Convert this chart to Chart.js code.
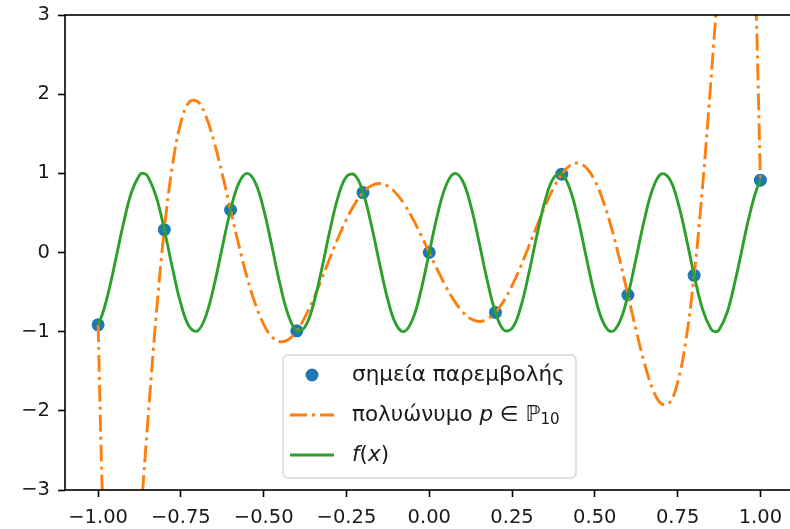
<!DOCTYPE html>
<html>
<head>
<meta charset="utf-8">
<script src="https://cdn.jsdelivr.net/npm/chart.js@4.4.1/dist/chart.umd.min.js"></script>
<style>
  html, body { margin: 0; padding: 0; background: #fff; overflow: hidden; }
  #wrap { width: 800px; height: 529px; }
</style>
</head>
<body>
<div id="wrap"><canvas id="chart" width="800" height="529"></canvas></div>
<script>
const xGrid = [
  -1, -0.9875, -0.975, -0.9625, -0.95, -0.9375, -0.925, -0.9, -0.875, -0.8625, -0.85,
  -0.825, -0.8, -0.775, -0.75, -0.725, -0.7, -0.675, -0.65, -0.625, -0.6, -0.575,
  -0.55, -0.525, -0.5, -0.475, -0.45, -0.425, -0.4, -0.375, -0.35, -0.325, -0.3,
  -0.275, -0.25, -0.225, -0.2, -0.175, -0.15, -0.125, -0.1, -0.075, -0.05, -0.025,
  0,
  0.025, 0.05, 0.075, 0.1, 0.125, 0.15, 0.175, 0.2, 0.225, 0.25, 0.275, 0.3,
  0.325, 0.35, 0.375, 0.4, 0.425, 0.45, 0.475, 0.5, 0.525, 0.55, 0.575, 0.6,
  0.625, 0.65, 0.675, 0.7, 0.725, 0.75, 0.775, 0.8, 0.825,
  0.85, 0.8625, 0.875, 0.9, 0.925, 0.9375, 0.95, 0.9625, 0.975, 0.9875, 1
];

// f(x), green
const fValues = [
  -0.913, -0.784, -0.606, -0.390, -0.150, 0.099, 0.338, 0.751, 0.980, 1.000, 0.961,
  0.712, 0.288, -0.206, -0.650, -0.935, -0.991, -0.804, -0.420, 0.066, 0.537, 0.876,
  1.000, 0.880, 0.544, 0.075, -0.412, -0.799, -0.989, -0.938, -0.657, -0.215, 0.279,
  0.706, 0.959, 0.978, 0.757, 0.351, -0.141, -0.598, -0.909, -0.997, -0.841, -0.479,
  0,
  0.479, 0.841, 0.997, 0.909, 0.598, 0.141, -0.351, -0.757, -0.978, -0.959, -0.706, -0.279,
  0.215, 0.657, 0.938, 0.989, 0.799, 0.412, -0.075, -0.544, -0.880, -1.000, -0.876, -0.537,
  -0.066, 0.420, 0.804, 0.991, 0.935, 0.650, 0.206, -0.288, -0.712,
  -0.961, -1.000, -0.980, -0.751, -0.338, -0.099, 0.150, 0.390, 0.606, 0.784, 0.913
];

// interpolating polynomial, orange dash-dot
const pValues = [
  -0.913, -3.024, -4.470, -5.369, -5.825, -5.926, -5.758, -4.856, -3.548, -2.837, -2.133,
  -0.814, 0.288, 1.113, 1.645, 1.899, 1.909, 1.726, 1.401, 0.988, 0.537, 0.090,
  -0.316, -0.654, -0.907, -1.066, -1.128, -1.099, -0.989, -0.813, -0.589, -0.334, -0.070,
  0.187, 0.419, 0.613, 0.757, 0.844, 0.871, 0.837, 0.747, 0.608, 0.428, 0.221,
  0,
  -0.221, -0.428, -0.608, -0.747, -0.837, -0.871, -0.844, -0.757, -0.613, -0.419, -0.187, 0.070,
  0.334, 0.589, 0.813, 0.989, 1.099, 1.128, 1.066, 0.907, 0.654, 0.316, -0.090, -0.537,
  -0.988, -1.401, -1.726, -1.909, -1.899, -1.645, -1.113, -0.288, 0.814,
  2.133, 2.837, 3.548, 4.856, 5.758, 5.926, 5.825, 5.369, 4.470, 3.024, 0.913
];

// interpolation nodes
const nodeX = [-1, -0.8, -0.6, -0.4, -0.2, 0, 0.2, 0.4, 0.6, 0.8, 1];
const nodeY = [-0.913, 0.288, 0.537, -0.989, 0.757, 0, -0.757, 0.989, -0.537, -0.288, 0.913];

const xTicks = [-1, -0.75, -0.5, -0.25, 0, 0.25, 0.5, 0.75, 1];
const yTicks = [-3, -2, -1, 0, 1, 2, 3];

const BLUE = '#1f77b4', ORANGE = '#ff7f0e', GREEN = '#2ca02c';
const FONT = '"DejaVu Sans", sans-serif';
const FS = 19.5;   // tick labels
const LFS = 21.5;  // legend text

function pts(xs, ys) {
  return xs.map((x, i) => ({ x: x, y: ys[i] }));
}
function minus(s) {
  return s.replace('-', '\u2212');
}

// frame on all four sides + the matplotlib style legend
const framePlugin = {
  id: 'frame',
  afterDraw(chart) {
    const ctx = chart.ctx;
    const a = chart.chartArea;
    ctx.save();
    ctx.strokeStyle = '#000';
    ctx.lineWidth = 1.6;
    ctx.strokeRect(a.left, a.top, a.right - a.left, a.bottom - a.top);

    // legend box
    const bx = 283, by = 355, bw = 293, bh = 123, r = 5;
    ctx.beginPath();
    ctx.roundRect(bx, by, bw, bh, r);
    ctx.fillStyle = 'rgba(255,255,255,0.8)';
    ctx.fill();
    ctx.strokeStyle = 'rgba(204,204,204,0.8)';
    ctx.lineWidth = 1.5;
    ctx.stroke();

    const tx = 352;
    const rows = [375, 415, 455];
    ctx.textBaseline = 'middle';

    // row 1: marker
    ctx.beginPath();
    ctx.arc(312, rows[0], 6.5, 0, Math.PI * 2);
    ctx.fillStyle = BLUE;
    ctx.fill();
    ctx.fillStyle = '#1a1a1a';
    ctx.font = LFS + 'px ' + FONT;
    ctx.fillText('σημεία παρεμβολής', tx, rows[0]);

    // row 2: dash-dot handle
    ctx.beginPath();
    ctx.setLineDash([17, 5, 3, 5]);
    ctx.strokeStyle = ORANGE;
    ctx.lineWidth = 2.9;
    ctx.moveTo(290, rows[1]);
    ctx.lineTo(334, rows[1]);
    ctx.stroke();
    ctx.setLineDash([]);

    let x = tx;
    const seg = (row, text, font, dy) => {
      ctx.font = font;
      ctx.fillText(text, x, row + (dy || 0));
      x += ctx.measureText(text).width;
    };
    seg(rows[1], 'πολυώνυμο ', LFS + 'px ' + FONT);
    seg(rows[1], 'p', 'italic ' + LFS + 'px ' + FONT);
    seg(rows[1], ' \u2208 ', LFS + 'px ' + FONT);
    seg(rows[1], '\u2119', 'italic ' + LFS + 'px ' + FONT);
    seg(rows[1], '10', (LFS * 0.7) + 'px ' + FONT, 5);

    // row 3: solid handle
    ctx.beginPath();
    ctx.strokeStyle = GREEN;
    ctx.lineWidth = 2.9;
    ctx.moveTo(290, rows[2]);
    ctx.lineTo(334, rows[2]);
    ctx.stroke();

    x = tx;
    seg(rows[2], 'f', 'italic ' + LFS + 'px ' + FONT);
    seg(rows[2], '(', LFS + 'px ' + FONT);
    seg(rows[2], 'x', 'italic ' + LFS + 'px ' + FONT);
    seg(rows[2], ')', LFS + 'px ' + FONT);
    ctx.restore();
  }
};

Chart.defaults.font.family = FONT;
Chart.defaults.font.size = FS;
Chart.defaults.color = '#1a1a1a';

new Chart(document.getElementById('chart'), {
  type: 'scatter',
  data: {
    datasets: [
      {
        label: 'σημεία παρεμβολής',
        data: pts(nodeX, nodeY),
        backgroundColor: BLUE,
        borderColor: BLUE,
        pointRadius: 6.5,
        pointBorderWidth: 0,
        showLine: false,
        order: 3
      },
      {
        label: 'πολυώνυμο p ∈ ℙ10',
        data: pts(xGrid, pValues),
        borderColor: ORANGE,
        borderWidth: 2.9,
        borderDash: [17, 5, 3, 5],
        pointRadius: 0,
        showLine: true,
        tension: 0.4,
        order: 2
      },
      {
        label: 'f(x)',
        data: pts(xGrid, fValues),
        borderColor: GREEN,
        borderWidth: 2.9,
        pointRadius: 0,
        showLine: true,
        tension: 0.4,
        order: 1
      }
    ]
  },
  options: {
    responsive: false,
    animation: false,
    devicePixelRatio: 1,
    layout: { padding: { top: 15, right: 5, left: 0, bottom: 0 } },
    plugins: { legend: { display: false }, tooltip: { enabled: false } },
    scales: {
      x: {
        type: 'linear',
        min: -1.1,
        max: 1.1,
        afterBuildTicks: (s) => { s.ticks = xTicks.map(v => ({ value: v })); },
        afterFit: (s) => { s.height = 39; s.paddingLeft = 0; s.paddingRight = 0; },
        ticks: {
          padding: 9,
          maxRotation: 0,
          autoSkip: false,
          callback: (v) => minus(Number(v).toFixed(2))
        },
        grid: { drawOnChartArea: false, drawTicks: true, tickLength: 7, tickWidth: 1.6, tickColor: '#000' },
        border: { display: false }
      },
      y: {
        min: -3,
        max: 3,
        afterBuildTicks: (s) => { s.ticks = yTicks.map(v => ({ value: v })); },
        afterFit: (s) => { s.width = 65; s.paddingTop = 0; s.paddingBottom = 0; },
        ticks: {
          padding: 8,
          autoSkip: false,
          callback: (v) => minus(String(v))
        },
        grid: { drawOnChartArea: false, drawTicks: true, tickLength: 7, tickWidth: 1.6, tickColor: '#000' },
        border: { display: false }
      }
    }
  },
  plugins: [framePlugin]
});
</script>
</body>
</html>
